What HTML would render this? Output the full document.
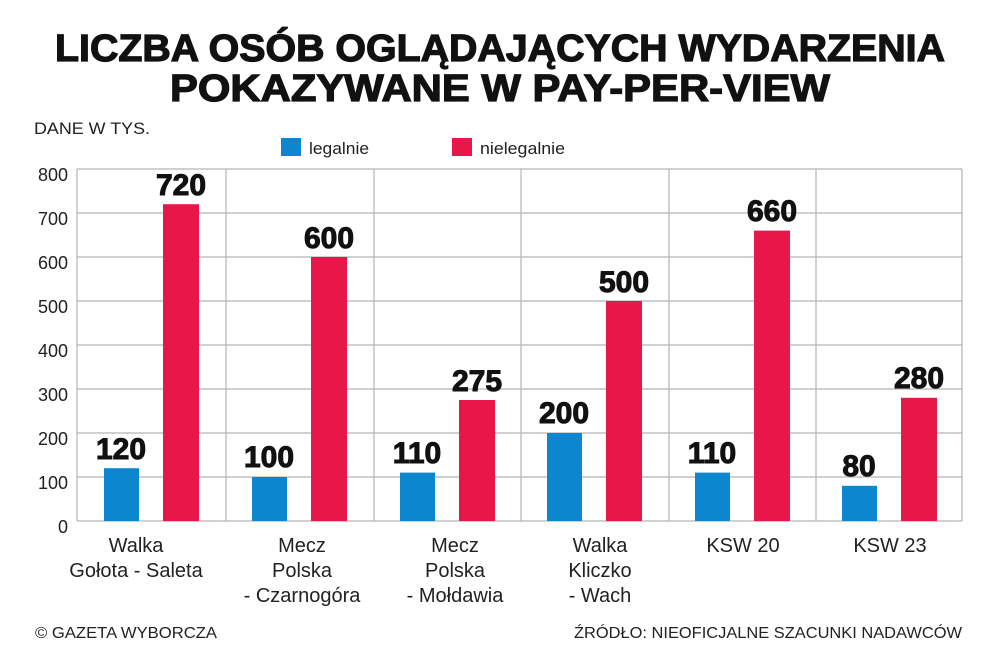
<!DOCTYPE html>
<html><head><meta charset="utf-8"><style>body{margin:0;background:#fff}svg{display:block}</style></head><body>
<svg width="1000" height="671" viewBox="0 0 1000 671" xmlns="http://www.w3.org/2000/svg" font-family="Liberation Sans, DejaVu Sans, sans-serif">
<text x="500" y="61" text-anchor="middle" font-size="38" font-weight="bold" stroke="#111" stroke-width="1.2" textLength="890" lengthAdjust="spacingAndGlyphs" fill="#111">LICZBA OSÓB OGLĄDAJĄCYCH WYDARZENIA</text>
<text x="500" y="101" text-anchor="middle" font-size="38" font-weight="bold" stroke="#111" stroke-width="1.2" textLength="660" lengthAdjust="spacingAndGlyphs" fill="#111">POKAZYWANE W PAY-PER-VIEW</text>
<text x="34" y="134" font-size="17" fill="#222" textLength="116" lengthAdjust="spacingAndGlyphs">DANE W TYS.</text>
<rect x="281" y="138" width="20" height="18" fill="#0d86d0"/>
<text x="309" y="154" font-size="17" fill="#222" textLength="60" lengthAdjust="spacingAndGlyphs">legalnie</text>
<rect x="452" y="138" width="20" height="18" fill="#e8174a"/>
<text x="480" y="154" font-size="17" fill="#222" textLength="85" lengthAdjust="spacingAndGlyphs">nielegalnie</text>
<g stroke="#b5b5b5" stroke-width="1.2">
<line x1="77" y1="169" x2="962" y2="169"/><line x1="77" y1="213" x2="962" y2="213"/><line x1="77" y1="257" x2="962" y2="257"/><line x1="77" y1="301" x2="962" y2="301"/><line x1="77" y1="345" x2="962" y2="345"/><line x1="77" y1="389" x2="962" y2="389"/><line x1="77" y1="433" x2="962" y2="433"/><line x1="77" y1="477" x2="962" y2="477"/><line x1="77" y1="521" x2="962" y2="521"/>
<line x1="77" y1="169" x2="77" y2="521"/><line x1="226" y1="169" x2="226" y2="521"/><line x1="374" y1="169" x2="374" y2="521"/><line x1="521" y1="169" x2="521" y2="521"/><line x1="669" y1="169" x2="669" y2="521"/><line x1="816" y1="169" x2="816" y2="521"/><line x1="962" y1="169" x2="962" y2="521"/>
</g>
<g font-size="18" fill="#222" text-anchor="end">
<text x="68" y="181">800</text><text x="68" y="225">700</text><text x="68" y="269">600</text><text x="68" y="313">500</text><text x="68" y="357">400</text><text x="68" y="401">300</text><text x="68" y="445">200</text><text x="68" y="489">100</text><text x="68" y="533">0</text>
</g>
<g fill="#0d86d0">
<rect x="104" y="468.2" width="35" height="52.8"/>
<rect x="252" y="477" width="35" height="44"/>
<rect x="400" y="472.6" width="35" height="48.4"/>
<rect x="547" y="433" width="35" height="88"/>
<rect x="695" y="472.6" width="35" height="48.4"/>
<rect x="842" y="485.8" width="35" height="35.2"/>
</g>
<g fill="#e8174a">
<rect x="163" y="204.2" width="36" height="316.8"/>
<rect x="311" y="257" width="36" height="264"/>
<rect x="459" y="400" width="36" height="121"/>
<rect x="606" y="301" width="36" height="220"/>
<rect x="754" y="230.6" width="36" height="290.4"/>
<rect x="901" y="397.8" width="36" height="123.2"/>
</g>
<g font-size="30" font-weight="bold" fill="#111" stroke="#111" stroke-width="1" text-anchor="middle">
<text x="121" y="459">120</text><text x="269" y="467">100</text><text x="417" y="463">110</text><text x="564" y="423">200</text><text x="712" y="463">110</text><text x="859" y="476">80</text>
<text x="181" y="195">720</text><text x="329" y="248">600</text><text x="477" y="391">275</text><text x="624" y="292">500</text><text x="772" y="221">660</text><text x="919" y="388">280</text>
</g>
<g font-size="20" fill="#222" text-anchor="middle">
<text x="136" y="552">Walka</text><text x="136" y="577">Gołota - Saleta</text>
<text x="302" y="552">Mecz</text><text x="302" y="577">Polska</text><text x="302" y="602">- Czarnogóra</text>
<text x="455" y="552">Mecz</text><text x="455" y="577">Polska</text><text x="455" y="602">- Mołdawia</text>
<text x="600" y="552">Walka</text><text x="600" y="577">Kliczko</text><text x="600" y="602">- Wach</text>
<text x="743" y="552">KSW 20</text>
<text x="890" y="552">KSW 23</text>
</g>
<text x="35" y="638" font-size="16" fill="#222" textLength="182" lengthAdjust="spacingAndGlyphs">© GAZETA WYBORCZA</text>
<text x="962" y="638" font-size="16" fill="#222" text-anchor="end" textLength="388" lengthAdjust="spacingAndGlyphs">ŹRÓDŁO: NIEOFICJALNE SZACUNKI NADAWCÓW</text>
</svg>
</body></html>
